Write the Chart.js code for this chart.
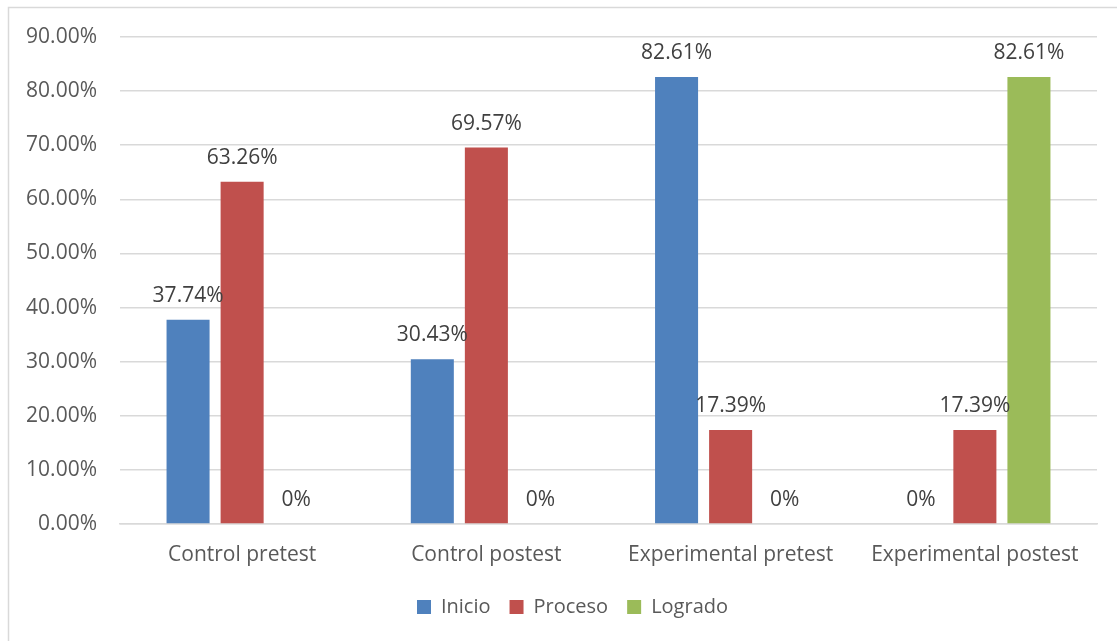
<!DOCTYPE html>
<html>
<head>
<meta charset="utf-8">
<script src="https://cdn.jsdelivr.net/npm/chart.js@4"></script>
<style>
  html, body { margin: 0; padding: 0; background: #ffffff; }
  #wrap { width: 1117px; height: 641px; position: relative; }
</style>
</head>
<body>
<div id="wrap"><canvas id="c" width="1117" height="641"></canvas></div>
<script>
const categories = ["Control pretest", "Control postest", "Experimental pretest", "Experimental postest"];
const seriesNames = ["Inicio", "Proceso", "Logrado"];
const inicio = [37.74, 30.43, 82.61, 0];
const proceso = [63.26, 69.57, 17.39, 17.39];
const logrado = [0, 0, 0, 82.61];
const yTicks = [0, 10, 20, 30, 40, 50, 60, 70, 80, 90];
const colors = ["#4F81BD", "#C0504D", "#9BBB59"];

const FONT = "'Open Sans', 'DejaVu Sans', sans-serif";

const frame = {
  id: 'frame',
  beforeDraw(chart) {
    const ctx = chart.ctx;
    ctx.save();
    ctx.fillStyle = '#ffffff';
    ctx.fillRect(0, 0, chart.width, chart.height);
    ctx.strokeStyle = '#d9d9d9';
    ctx.lineWidth = 1.5;
    ctx.strokeRect(8.5, 7.5, chart.width, chart.height);
    ctx.restore();
  }
};

const legendShift = {
  id: 'legendShift',
  afterLayout(chart) {
    const lg = chart.legend;
    if (lg) { lg.left += 24; lg.right += 24; }
  }
};

const dataLabels = {
  id: 'dataLabels',
  afterDatasetsDraw(chart) {
    const ctx = chart.ctx;
    ctx.save();
    ctx.font = "21px " + FONT;
    ctx.fillStyle = '#404040';
    ctx.textAlign = 'center';
    ctx.textBaseline = 'middle';
    chart.data.datasets.forEach((ds, i) => {
      const meta = chart.getDatasetMeta(i);
      meta.data.forEach((el, j) => {
        const v = ds.data[j];
        const txt = v === 0 ? "0%" : v.toFixed(2) + "%";
        ctx.fillText(txt, el.x, el.y - 24);
      });
    });
    ctx.restore();
  }
};

new Chart(document.getElementById('c'), {
  type: 'bar',
  data: {
    labels: categories,
    datasets: [
      { label: seriesNames[0], data: inicio, backgroundColor: colors[0] },
      { label: seriesNames[1], data: proceso, backgroundColor: colors[1] },
      { label: seriesNames[2], data: logrado, backgroundColor: colors[2] }
    ]
  },
  options: {
    responsive: false,
    animation: false,
    devicePixelRatio: 1,
    datasets: { bar: { categoryPercentage: 0.664, barPercentage: 0.796 } },
    layout: { padding: { top: 37, right: 20, left: 0, bottom: 14 } },
    scales: {
      y: {
        min: 0, max: 90,
        afterBuildTicks(scale) { scale.ticks = yTicks.map(v => ({ value: v })); },
        afterFit(scale) { scale.width = 120; },
        border: { display: false },
        grid: { color: '#d9d9d9', lineWidth: 1.5, drawTicks: false },
        ticks: {
          padding: 23,
          color: '#595959',
          font: { family: FONT, size: 21 },
          callback: v => v.toFixed(2) + "%"
        }
      },
      x: {
        afterFit(scale) { scale.height = 54; },
        border: { display: true, color: '#d9d9d9', width: 1.5 },
        grid: { display: false, drawTicks: false },
        ticks: {
          padding: 18,
          color: '#595959',
          font: { family: FONT, size: 21 }
        }
      }
    },
    plugins: {
      legend: {
        position: 'bottom',
        labels: {
          boxWidth: 14, boxHeight: 14, padding: 19,
          color: '#595959',
          font: { family: FONT, size: 20 }
        }
      },
      tooltip: { enabled: false }
    }
  },
  plugins: [frame, legendShift, dataLabels]
});
</script>
</body>
</html>
